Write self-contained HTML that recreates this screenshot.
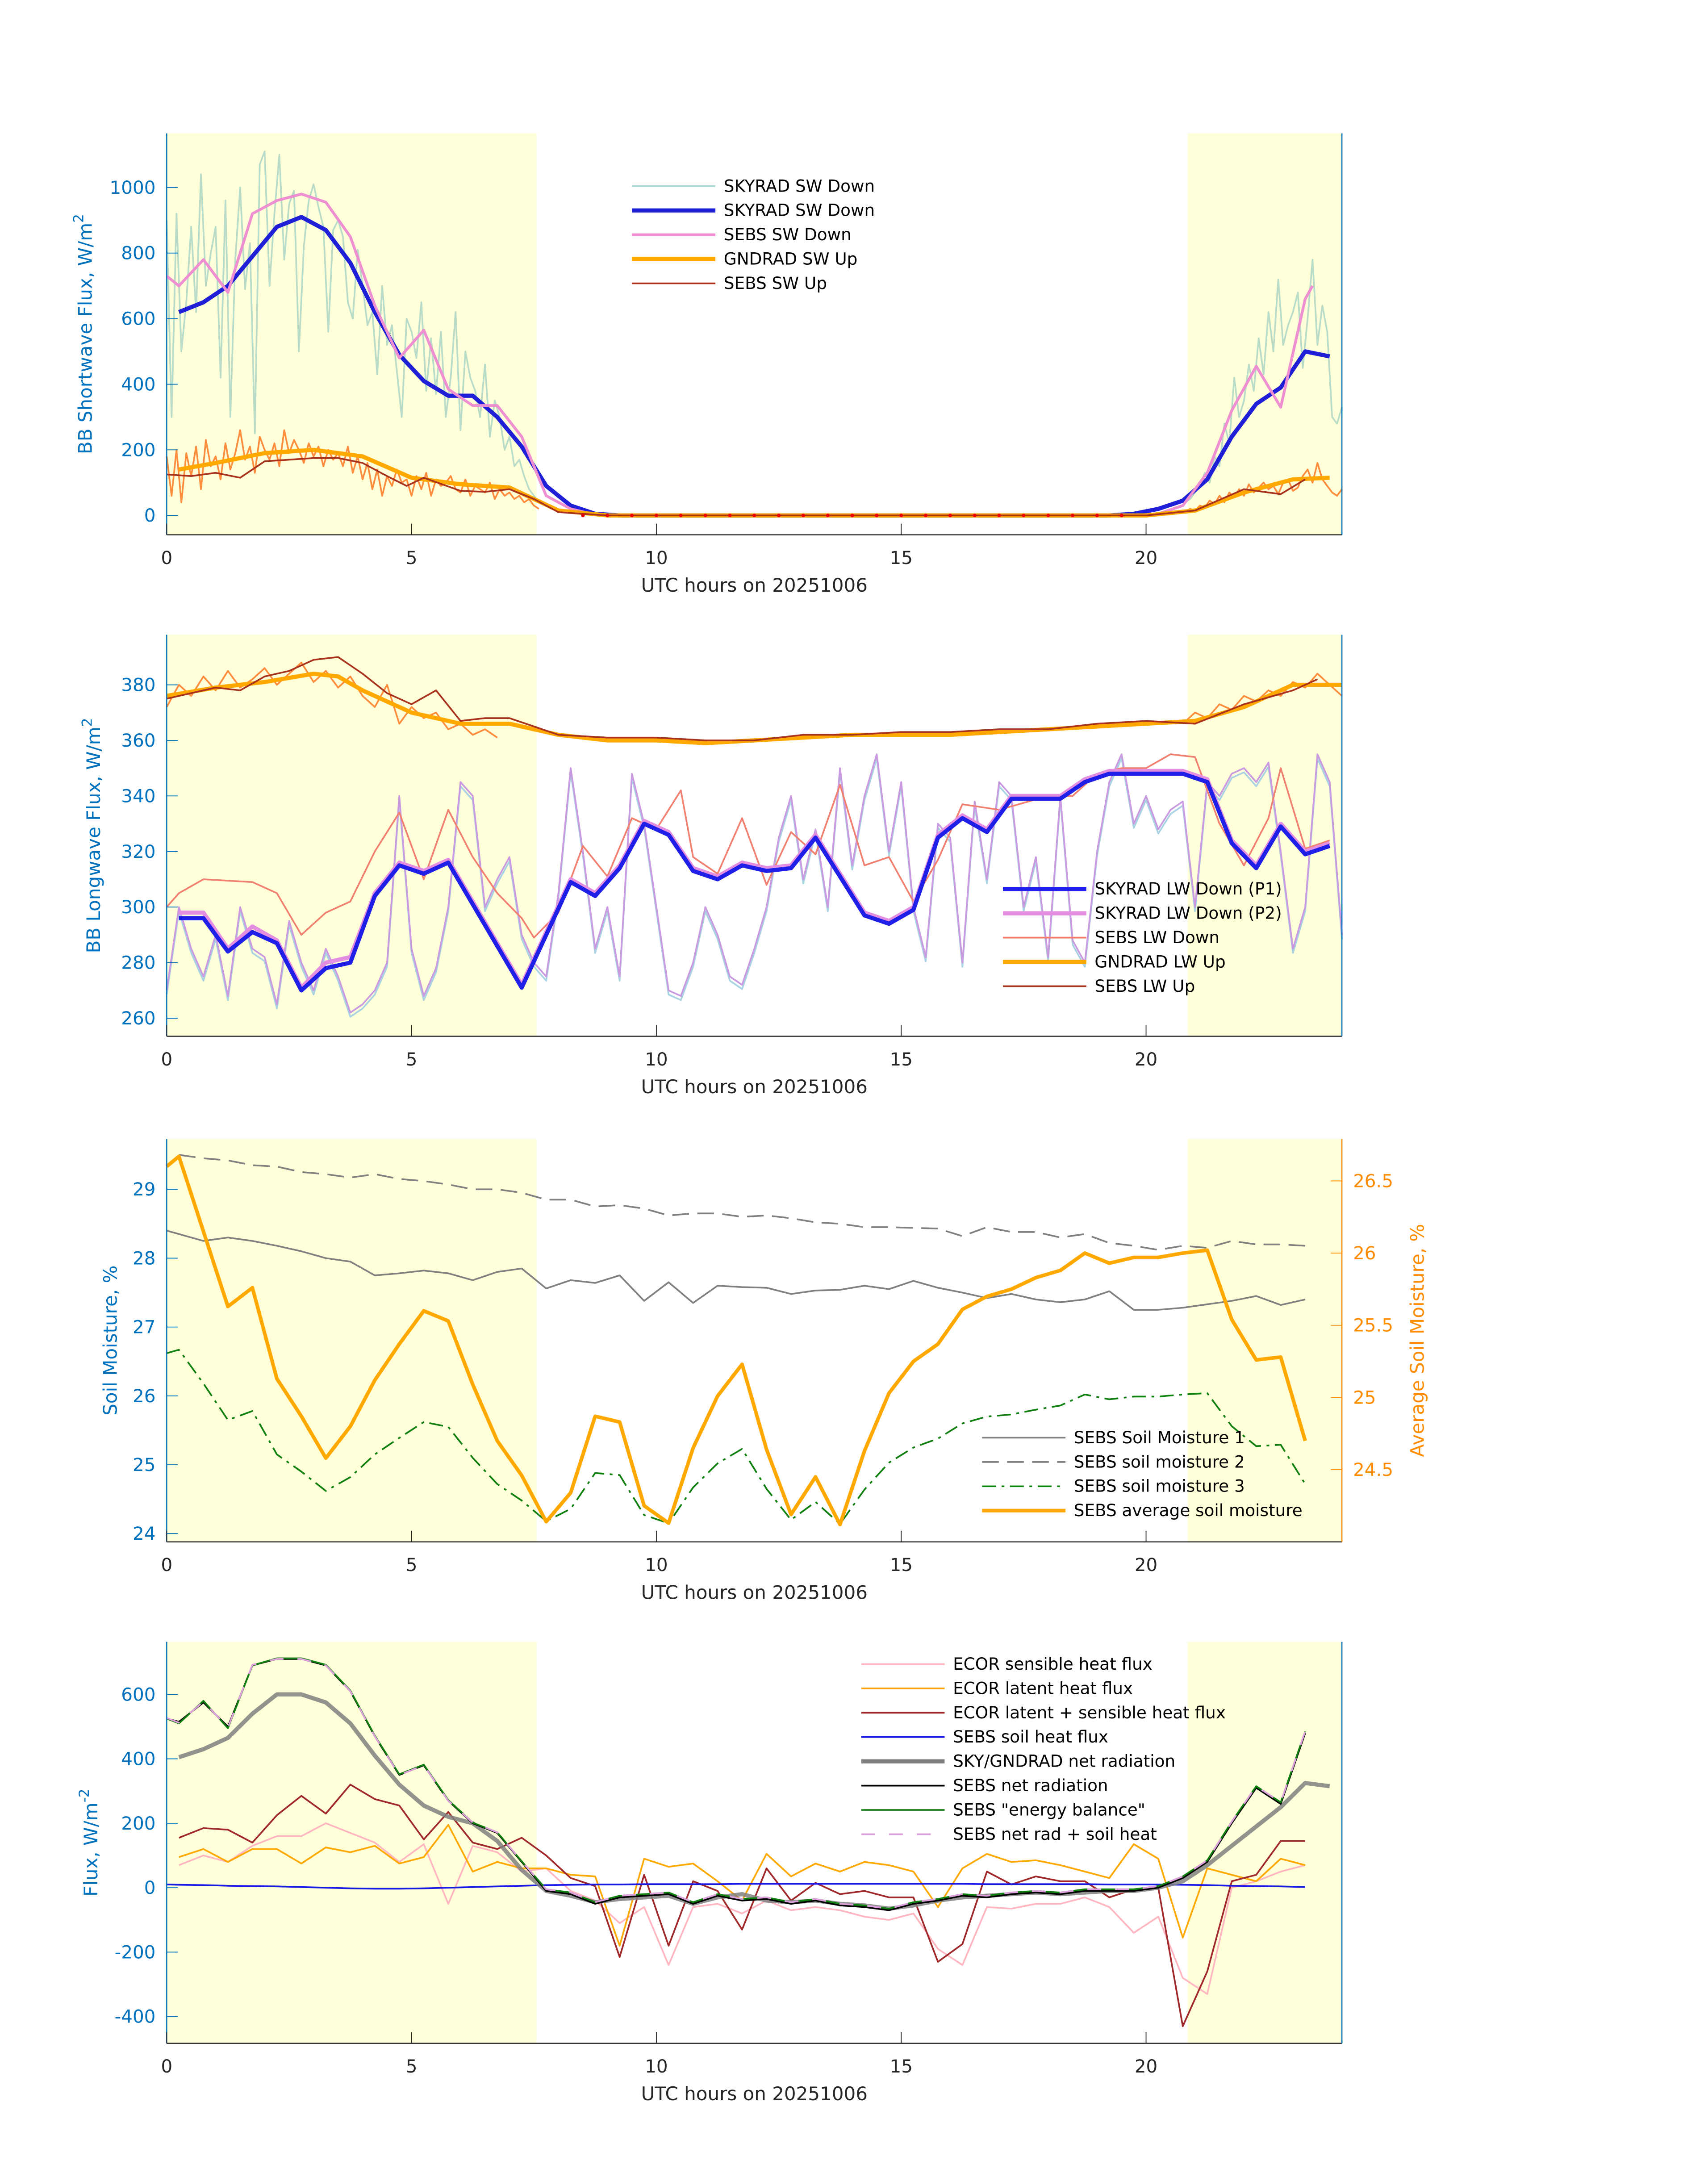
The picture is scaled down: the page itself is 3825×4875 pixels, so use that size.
<!DOCTYPE html>
<html><head><meta charset="utf-8"><style>
html,body{margin:0;padding:0;background:#fff}
svg{display:block}
text{font-family:"DejaVu Sans","Liberation Sans",sans-serif}
</style></head><body>
<svg id="fig" width="3825" height="4875" viewBox="0 0 1216 1550" preserveAspectRatio="none" xmlns="http://www.w3.org/2000/svg"><g id="root" transform="scale(0.989)"></g></svg>
<script>
// ---------- data ----------
const hoursHalf=[0.25,0.75,1.25,1.75,2.25,2.75,3.25,3.75,4.25,4.75,5.25,5.75,6.25,6.75,7.25,7.75,8.25,8.75,9.25,9.75,10.25,10.75,11.25,11.75,12.25,12.75,13.25,13.75,14.25,14.75,15.25,15.75,16.25,16.75,17.25,17.75,18.25,18.75,19.25,19.75,20.25,20.75,21.25,21.75,22.25,22.75,23.25,23.75];
// panel 1
const skySW=[620,650,700,790,880,910,870,770,620,490,410,365,365,300,210,90,30,5,0,0,0,0,0,0,0,0,0,0,0,0,0,0,0,0,0,0,0,0,0,5,20,45,110,240,340,390,500,485];
const sebsSWHours=[0,0.25,0.75,1.25,1.75,2.25,2.75,3.25,3.75,4.25,4.75,5.25,5.75,6.25,6.75,7.25,7.75,8.25,8.75,10,15,19.75,20.25,20.75,21.25,21.75,22.25,22.75,23.25,23.4];
const sebsSW=[730,700,780,680,920,960,980,955,850,640,480,565,385,335,335,240,60,20,2,0,0,0,5,30,130,320,455,330,660,700];
const gndSWUpHours=[0.25,1,2,3,4,5,6,7,7.5,8,9,15,20,21,22,23,23.75];
const gndSWUp=[140,160,190,200,180,115,95,85,50,15,0,0,0,15,70,110,115];
const sebsSWUpHours=[0,0.5,1,1.5,2,3,3.5,4,4.5,4.9,5.25,6,6.5,7,7.5,8,9,15,20,21,22,22.75,23.25];
const sebsSWUp=[125,120,130,115,165,175,175,160,120,90,115,75,72,80,50,10,0,0,0,15,80,65,110];
const swRaw=[900,300,920,500,650,880,620,1040,700,800,880,420,960,300,780,1000,690,830,250,1070,1110,700,920,1100,780,950,990,500,820,960,1010,940,880,560,870,900,850,650,600,810,700,580,620,430,700,520,580,440,300,600,560,480,650,380,540,370,560,300,420,620,260,500,420,380,300,460,240,350,300,200,240,150,170,120,80,60,40];
const swRaw2=[40,50,70,90,130,100,180,150,280,220,420,300,350,460,380,540,430,620,500,720,520,580,620,680,450,600,780,520,640,560,300,280,330];
const swUpRaw=[180,60,200,40,190,120,210,80,230,150,180,110,220,140,190,260,170,210,130,240,200,170,220,150,260,190,230,200,160,220,180,210,150,200,170,190,150,210,130,180,110,160,80,140,60,120,90,140,100,110,60,120,80,130,60,110,90,100,120,80,70,110,60,90,80,70,100,50,80,60,70,50,60,40,50,30,20];
const swUpRaw2=[10,20,15,30,25,45,35,60,40,70,55,80,60,95,70,85,100,80,90,65,100,110,75,85,120,140,100,160,110,90,70,60,80];
// panel 2
const lwDownP1=[296,296,284,291,287,270,278,280,304,315,312,316,301,286,271,290,309,304,314,330,326,313,310,315,313,314,325,311,297,294,299,325,332,327,339,339,339,345,348,348,348,348,345,323,314,329,319,322];
const lwDownP2=[298,298,285,293,288,271,280,282,305,316,313,317,302,287,272,291,310,305,315,331,327,314,311,316,314,315,326,312,298,295,300,326,333,328,340,340,340,346,349,349,349,349,346,324,315,330,320,323];
const sebsLWDownHours=[0,0.25,0.75,1.75,2.25,2.75,3.25,3.75,4.25,4.75,5.25,5.75,6.25,6.75,7.25,7.5,8,8.5,9,9.5,10,10.5,10.75,11.25,11.75,12.25,12.75,13.25,13.75,14.25,14.75,15.25,15.75,16.25,17,18,18.5,19,19.5,20,20.5,21,21.5,22,22.5,22.75,23.25,23.75];
const sebsLWDown=[300,305,310,309,305,290,298,302,320,334,310,335,318,305,296,289,298,322,311,332,328,342,318,312,332,308,327,319,344,315,318,302,317,337,335,340,340,348,350,350,355,354,330,315,332,350,321,324];
const gndLWUpHours=[0,1,2,3,3.5,4,5,6,7,7.5,8,9,10,11,12,13,14,15,16,17,18,19,20,21,22,23,24];
const gndLWUp=[376,379,381,384,383,378,370,366,366,364,362,360,360,359,360,361,362,362,362,363,364,365,366,367,372,380,380];
const sebsLWUpHours=[0,0.5,1,1.5,2,2.5,3,3.5,4,4.5,5,5.5,6,6.5,7,7.5,8,9,10,11,12,13,14,15,16,17,18,19,20,21,22,23,23.5];
const sebsLWUp=[375,377,379,378,383,385,389,390,384,377,373,378,367,368,368,365,362,361,361,360,360,362,362,363,363,364,364,366,367,366,373,378,382];
const lwRaw=[270,300,285,275,290,268,300,285,282,265,295,280,270,285,275,262,265,270,280,340,285,268,278,300,345,340,300,310,318,290,280,275,305,350,320,285,300,275,348,330,300,270,268,280,300,290,275,272,285,300,325,340,310,328,300,350,315,340,355,320,345,300,282,330,325,280,338,310,345,340,300,318,282,340,288,280,320,345,355,330,340,328,335,338,300,345,340,348,350,345,352,320,285,300,355,345,290];
const lwUpRaw=[372,380,376,383,378,385,379,382,386,380,384,388,381,385,379,383,376,372,380,366,372,368,370,364,366,362,364,361];
const lwUpRaw2=[366,370,368,373,371,376,374,378,376,381,379,384,380,376];
// panel 3
const hoursSoil=[0,0.25,0.75,1.25,1.75,2.25,2.75,3.25,3.75,4.25,4.75,5.25,5.75,6.25,6.75,7.25,7.75,8.25,8.75,9.25,9.75,10.25,10.75,11.25,11.75,12.25,12.75,13.25,13.75,14.25,14.75,15.25,15.75,16.25,16.75,17.25,17.75,18.25,18.75,19.25,19.75,20.25,20.75,21.25,21.75,22.25,22.75,23.25];
const soil1=[28.4,28.35,28.25,28.3,28.25,28.18,28.1,28.0,27.95,27.75,27.78,27.82,27.78,27.68,27.8,27.85,27.56,27.68,27.64,27.75,27.38,27.65,27.35,27.6,27.58,27.57,27.48,27.53,27.54,27.6,27.55,27.67,27.57,27.5,27.42,27.48,27.4,27.36,27.4,27.52,27.25,27.25,27.28,27.33,27.38,27.45,27.32,27.4];
const soil2=[null,29.5,29.45,29.42,29.35,29.33,29.25,29.22,29.17,29.22,29.15,29.12,29.07,29.0,29.0,28.95,28.85,28.85,28.75,28.77,28.72,28.62,28.65,28.65,28.6,28.62,28.58,28.52,28.5,28.45,28.45,28.44,28.43,28.32,28.45,28.38,28.38,28.3,28.35,28.22,28.18,28.12,28.18,28.15,28.25,28.2,28.2,28.18];
const soil3=[26.62,26.67,26.18,25.65,25.78,25.15,24.9,24.62,24.82,25.15,25.39,25.62,25.55,25.1,24.72,24.48,24.18,24.36,24.88,24.85,24.27,24.15,24.67,25.02,25.23,24.65,24.2,24.46,24.14,24.64,25.03,25.25,25.38,25.6,25.7,25.73,25.8,25.86,26.02,25.95,25.99,25.99,26.02,26.04,25.56,25.27,25.29,24.72];
const soilAvg=[26.6,26.67,26.15,25.63,25.76,25.13,24.87,24.58,24.8,25.12,25.37,25.6,25.53,25.09,24.7,24.46,24.14,24.34,24.87,24.83,24.25,24.13,24.65,25.01,25.23,24.64,24.19,24.45,24.12,24.63,25.03,25.25,25.37,25.61,25.7,25.75,25.83,25.88,26.0,25.93,25.97,25.97,26.0,26.02,25.54,25.26,25.28,24.7];
// panel 4
const hoursFlux=[0,0.25,0.75,1.25,1.75,2.25,2.75,3.25,3.75,4.25,4.75,5.25,5.75,6.25,6.75,7.25,7.75,8.25,8.75,9.25,9.75,10.25,10.75,11.25,11.75,12.25,12.75,13.25,13.75,14.25,14.75,15.25,15.75,16.25,16.75,17.25,17.75,18.25,18.75,19.25,19.75,20.25,20.75,21.25,21.75,22.25,22.75,23.25,23.75];
const netRadSky=[null,405,430,465,540,600,600,575,510,410,320,255,220,200,145,55,-10,-25,-45,-35,-30,-25,-50,-30,-20,-40,-45,-40,-50,-55,-65,-55,-40,-30,-25,-20,-15,-20,-15,-10,-10,0,20,70,130,190,250,325,315];
const netRadSebs=[525,515,575,500,690,710,710,690,610,470,350,380,270,200,170,80,-10,-20,-50,-30,-25,-20,-50,-25,-40,-35,-50,-40,-55,-60,-70,-50,-40,-25,-30,-20,-15,-20,-10,-10,-10,0,30,80,200,310,260,480,null];
const energyBal=[525,510,580,495,690,712,712,692,612,472,352,382,272,202,172,82,-5,-15,-45,-25,-20,-15,-45,-20,-35,-30,-45,-35,-50,-55,-65,-45,-35,-20,-25,-15,-10,-15,-5,-5,-5,5,35,85,205,315,265,485,null];
const netPlusSoil=[527,512,578,497,692,710,710,690,610,470,350,380,270,202,172,82,-5,-15,-45,-25,-20,-15,-45,-20,-35,-30,-45,-35,-50,-55,-65,-45,-35,-20,-25,-15,-10,-15,-5,-5,-5,5,35,85,205,315,265,485,null];
const soilHeat=[10,9,8,6,5,4,2,0,-2,-3,-3,-2,0,2,4,6,8,9,10,10,11,11,11,11,12,12,12,12,12,12,12,12,12,12,11,11,11,11,11,10,10,10,9,8,6,5,4,2,null];
const sensible=[null,70,100,80,130,160,160,200,170,140,80,135,-50,130,110,50,60,-10,-40,-110,-60,-240,-60,-50,-80,-40,-70,-60,-70,-90,-100,-80,-190,-240,-60,-65,-50,-50,-30,-60,-140,-90,-280,-330,0,20,50,70,null];
const latent=[null,95,120,80,120,120,75,125,110,130,75,95,195,50,80,60,60,40,35,-180,90,65,75,20,-40,105,35,75,50,80,70,50,-60,60,105,80,85,70,50,30,135,90,-155,60,40,20,90,70,null];
const latSens=[null,155,185,180,140,225,285,230,320,275,255,150,235,140,120,155,100,30,5,-215,40,-180,20,-10,-130,60,-40,15,-20,-10,-30,-30,-230,-175,50,10,35,20,20,-30,-5,0,-430,-260,20,40,145,145,null];

// ---------- drawing ----------
const NS="http://www.w3.org/2000/svg";
const svg=document.getElementById('root');
const X0=120,X1=966;
function xs(h){return X0+(X1-X0)*h/24;}
function el(tag,attrs,parent){const e=document.createElementNS(NS,tag);for(const k in attrs)e.setAttribute(k,attrs[k]);(parent||svg).appendChild(e);return e;}
function mkY(top,bot,vtop,vbot){return v=>top+(vtop-v)*(bot-top)/(vtop-vbot);}
function line(hours,vals,ys,style,name){
  let d="",pen=false;
  for(let i=0;i<vals.length&&i<hours.length;i++){const v=vals[i];if(v===null||v===undefined){pen=false;continue;}
    d+=(pen?"L":"M")+xs(hours[i]).toFixed(2)+","+ys(v).toFixed(2);pen=true;}
  const p=el('path',Object.assign({d:d,fill:'none','stroke-linejoin':'round'},style));
  
  
  return p;
}
function stepLine(start,step,vals,ys,style,name){
  const hrs=vals.map((v,i)=>start+i*step);
  return line(hrs,vals,ys,style,name);
}
function frame(top,bot,name){
  const g=el('g',{});
  
  
  const s1=el('rect',{x:X0,y:top,width:xs(7.55)-X0,height:bot-top,fill:'#ffffd9'},g);
  
  
  const s2=el('rect',{x:xs(20.85),y:top,width:X1-xs(20.85),height:bot-top,fill:'#ffffd9'},g);
  
  
  return g;
}
function axes(top,bot,ys,ticks,labels,ylabel,ylx,rightColor,name){
  const g=el('g',{});
  
  
  el('line',{x1:X0,y1:bot,x2:X1,y2:bot,stroke:'#262626','stroke-width':0.8},g);
  el('line',{x1:X0,y1:top,x2:X0,y2:bot,stroke:'#0072bd','stroke-width':0.8},g);
  el('line',{x1:X1,y1:top,x2:X1,y2:bot,stroke:rightColor||'#0072bd','stroke-width':0.8},g);
  [0,5,10,15,20].forEach(h=>{
    el('line',{x1:xs(h),y1:bot,x2:xs(h),y2:bot-8,stroke:'#262626','stroke-width':0.6},g);
    const t=el('text',{x:xs(h),y:bot+21,'font-size':13,'text-anchor':'middle',fill:'#262626'},g);t.textContent=h;
    
    
  });
  ticks.forEach((v,i)=>{
    el('line',{x1:X0,y1:ys(v),x2:X0+8,y2:ys(v),stroke:'#0072bd','stroke-width':0.6},g);
    const t=el('text',{x:X0-8,y:ys(v)+4.5,'font-size':13,'text-anchor':'end',fill:'#0072bd'},g);t.textContent=labels[i];
    
    
  });
  const xl=el('text',{x:543,y:bot+41,'font-size':13.5,'text-anchor':'middle',fill:'#262626'},g);xl.textContent='UTC hours on 20251006';
  
  
  const cy=(top+bot)/2;
  const yl=el('text',{x:ylx,y:cy,'font-size':13.5,'text-anchor':'middle',fill:'#0072bd',transform:`rotate(-90 ${ylx} ${cy})`},g);yl.innerHTML=ylabel;
  
  
}
function legend(x,y,items,name){
  const g=el('g',{});
  
  
  items.forEach((it,i)=>{
    const yy=y+i*17.5;
    el('line',Object.assign({x1:x,y1:yy,x2:x+60,y2:yy},it[1]),g);
    const t=el('text',{x:x+66,y:yy+4,'font-size':12,fill:'#000'},g);t.textContent=it[0];
    
    
  });
}

// ----- Panel 1 -----
{
const top=96,bot=385,ys=mkY(top,bot,1165,-59);
frame(top,bot,'shortwave-panel');
stepLine(0,0.1,swRaw,ys,{stroke:'#b8dcc8','stroke-width':1.2},'skyrad-sw-down-raw');
stepLine(20.8,0.1,swRaw2,ys,{stroke:'#b8dcc8','stroke-width':1.2},'skyrad-sw-down-raw-evening');
stepLine(0,0.1,swUpRaw,ys,{stroke:'#ff8c3c','stroke-width':1.2},'gndrad-sw-up-raw');
stepLine(20.8,0.1,swUpRaw2,ys,{stroke:'#ff8c3c','stroke-width':1.2},'gndrad-sw-up-raw-evening');
line(hoursHalf,skySW,ys,{stroke:'#1f1fd8','stroke-width':3},'skyrad-sw-down');
line(sebsSWHours,sebsSW,ys,{stroke:'#ee8fd2','stroke-width':2},'sebs-sw-down');
line(gndSWUpHours,gndSWUp,ys,{stroke:'#ffa800','stroke-width':3},'gndrad-sw-up');
line(sebsSWUpHours,sebsSWUp,ys,{stroke:'#a8321e','stroke-width':1.2},'sebs-sw-up');
for(let h=8.5;h<20;h+=0.5){const c=el('circle',{cx:xs(h),cy:ys(0),r:1.3,fill:'#e00'});}
axes(top,bot,ys,[0,200,400,600,800,1000],['0','200','400','600','800','1000'],'BB Shortwave Flux, W/m<tspan dy="-6" font-size="10">2</tspan>',66,null,'shortwave-axes');
legend(455,134,[['SKYRAD SW Down',{stroke:'#a8dcd8','stroke-width':1.2}],['SKYRAD SW Down',{stroke:'#1f1fd8','stroke-width':3}],['SEBS SW Down',{stroke:'#ee8fd2','stroke-width':2}],['GNDRAD SW Up',{stroke:'#ffa800','stroke-width':3}],['SEBS SW Up',{stroke:'#a8321e','stroke-width':1.2}]],'shortwave-legend');
}
// ----- Panel 2 -----
{
const top=457,bot=746,ys=mkY(top,bot,398,253.5);
frame(top,bot,'longwave-panel');
stepLine(0,0.25,lwRaw,ys,{stroke:'#a9d3e3','stroke-width':1.2,transform:'translate(0,3)'},'skyrad-lw-down-raw-p1');
stepLine(0,0.25,lwRaw,ys,{stroke:'#c99ae0','stroke-width':1.2},'skyrad-lw-down-raw-p2');
stepLine(0,0.25,lwUpRaw,ys,{stroke:'#ff8c3c','stroke-width':1.2},'gndrad-lw-up-raw');
stepLine(20.75,0.25,lwUpRaw2,ys,{stroke:'#ff8c3c','stroke-width':1.2},'gndrad-lw-up-raw-evening');
line(sebsLWDownHours,sebsLWDown,ys,{stroke:'#f28070','stroke-width':1.2},'sebs-lw-down');
line(hoursHalf,lwDownP2,ys,{stroke:'#e38ee0','stroke-width':3},'skyrad-lw-down-p2');
line(hoursHalf,lwDownP1,ys,{stroke:'#1f1fe8','stroke-width':3},'skyrad-lw-down-p1');
line(gndLWUpHours,gndLWUp,ys,{stroke:'#ffa800','stroke-width':3},'gndrad-lw-up');
line(sebsLWUpHours,sebsLWUp,ys,{stroke:'#a8321e','stroke-width':1.2},'sebs-lw-up');
axes(top,bot,ys,[260,280,300,320,340,360,380],['260','280','300','320','340','360','380'],'BB Longwave Flux, W/m<tspan dy="-6" font-size="10">2</tspan>',72,null,'longwave-axes');
legend(722,640,[['SKYRAD LW Down (P1)',{stroke:'#1f1fe8','stroke-width':3}],['SKYRAD LW Down (P2)',{stroke:'#e38ee0','stroke-width':3}],['SEBS LW Down',{stroke:'#f28070','stroke-width':1.2}],['GNDRAD LW Up',{stroke:'#ffa800','stroke-width':3}],['SEBS LW Up',{stroke:'#a8321e','stroke-width':1.2}]],'longwave-legend');
}
// ----- Panel 3 -----
{
const top=820,bot=1110,ys=mkY(top,bot,29.73,23.88),yr=mkY(top,bot,26.79,24.0);
frame(top,bot,'soil-panel');
line(hoursSoil,soil1,ys,{stroke:'#808080','stroke-width':1.2},'sebs-soil-moisture-1');
line(hoursSoil,soil2,ys,{stroke:'#808080','stroke-width':1.2,'stroke-dasharray':'12,6'},'sebs-soil-moisture-2');
line(hoursSoil,soil3,ys,{stroke:'#108010','stroke-width':1.2,'stroke-dasharray':'10,4,2,4'},'sebs-soil-moisture-3');
line(hoursSoil,soilAvg,yr,{stroke:'#ffa800','stroke-width':2.6},'sebs-average-soil-moisture');
axes(top,bot,ys,[24,25,26,27,28,29],['24','25','26','27','28','29'],'Soil Moisture, %',84,'#ff8c00','soil-axes');
const g=el('g',{});


[24.5,25,25.5,26,26.5].forEach(v=>{
  el('line',{x1:X1,y1:yr(v),x2:X1-8,y2:yr(v),stroke:'#ff8c00','stroke-width':0.6},g);
  const t=el('text',{x:X1+8,y:yr(v)+4.5,'font-size':13,fill:'#ff8c00'},g);t.textContent=String(v);
  
  
});
const cy=(top+bot)/2;
const rl=el('text',{x:1025,y:cy,'font-size':13.5,'text-anchor':'middle',fill:'#ff8c00',transform:`rotate(-90 1025 ${cy})`},g);rl.textContent='Average Soil Moisture, %';


legend(707,1035,[['SEBS Soil Moisture 1',{stroke:'#808080','stroke-width':1.2}],['SEBS soil moisture 2',{stroke:'#808080','stroke-width':1.2,'stroke-dasharray':'12,6'}],['SEBS soil moisture 3',{stroke:'#108010','stroke-width':1.2,'stroke-dasharray':'10,4,2,4'}],['SEBS average soil moisture',{stroke:'#ffa800','stroke-width':2.6}]],'soil-legend');
}
// ----- Panel 4 -----
{
const top=1182,bot=1471,ys=mkY(top,bot,763,-483);
frame(top,bot,'flux-panel');
line(hoursFlux,sensible,ys,{stroke:'#ffb6c1','stroke-width':1.2},'ecor-sensible-heat-flux');
line(hoursFlux,latent,ys,{stroke:'#ffa800','stroke-width':1.2},'ecor-latent-heat-flux');
line(hoursFlux,latSens,ys,{stroke:'#a0282a','stroke-width':1.2},'ecor-latent-plus-sensible');
line(hoursFlux,soilHeat,ys,{stroke:'#1a1ae6','stroke-width':1.2},'sebs-soil-heat-flux');
line(hoursFlux,netRadSky,ys,{stroke:'#808080','stroke-width':3,opacity:0.85},'sky-gndrad-net-radiation');
line(hoursFlux,netRadSebs,ys,{stroke:'#000','stroke-width':1.2},'sebs-net-radiation');
line(hoursFlux,energyBal,ys,{stroke:'#108010','stroke-width':1.2},'sebs-energy-balance');
line(hoursFlux,netPlusSoil,ys,{stroke:'#dda0dd','stroke-width':1.2,'stroke-dasharray':'10,10'},'sebs-net-rad-plus-soil-heat');
axes(top,bot,ys,[-400,-200,0,200,400,600],['-400','-200','0','200','400','600'],'Flux, W/m<tspan dy="-6" font-size="10">-2</tspan>',70,null,'flux-axes');
legend(620,1198,[['ECOR sensible heat flux',{stroke:'#ffb6c1','stroke-width':1.2}],['ECOR latent heat flux',{stroke:'#ffa800','stroke-width':1.2}],['ECOR latent + sensible heat flux',{stroke:'#a0282a','stroke-width':1.2}],['SEBS soil heat flux',{stroke:'#1a1ae6','stroke-width':1.2}],['SKY/GNDRAD net radiation',{stroke:'#808080','stroke-width':3}],['SEBS net radiation',{stroke:'#000','stroke-width':1.2}],['SEBS "energy balance"',{stroke:'#108010','stroke-width':1.2}],['SEBS net rad + soil heat',{stroke:'#dda0dd','stroke-width':1.2,'stroke-dasharray':'10,10'}]],'flux-legend');
}
</script>
</body></html>
